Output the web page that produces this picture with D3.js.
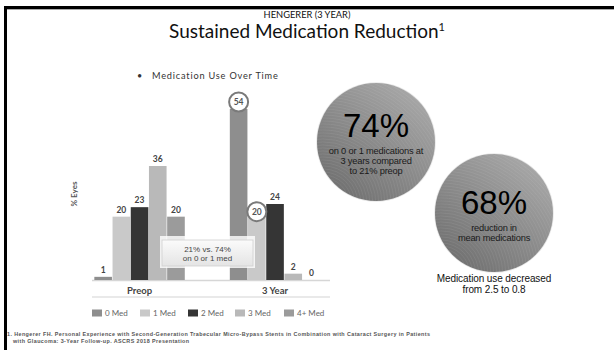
<!DOCTYPE html>
<html>
<head>
<meta charset="utf-8">
<script src="https://cdn.jsdelivr.net/npm/d3@7"></script>
<style>
  html, body { margin: 0; padding: 0; background: #fff; }
  svg { display: block; }
</style>
</head>
<body>
<svg id="chart" width="614" height="350"></svg>
<script>
// Share of eyes by number of glaucoma medications, preop vs. 3 years
const groups = ["Preop", "3 Year"];
const series = ["0 Med", "1 Med", "2 Med", "3 Med", "4+ Med"];
const preopValues = [1, 20, 23, 36, 20];
const year3Values = [54, 20, 24, 2, 0];
const seriesColors = ["#8e8e8e", "#c9c9c9", "#353535", "#b9b9b9", "#9b9b9b"];
const circledLabels = [{ group: "3 Year", series: "0 Med" }, { group: "3 Year", series: "1 Med" }];

const titleSmall = "HENGERER (3 YEAR)";
const titleMain = "Sustained Medication Reduction";
const bulletText = "Medication Use Over Time";
const calloutLines = ["21% vs. 74%", "on 0 or 1 med"];
const stat1 = { value: "74%", lines: ["on 0 or 1 medications at", "3 years compared", "to 21% preop"] };
const stat2 = { value: "68%", lines: ["reduction in", "mean medications"] };
const stat2Note = ["Medication use decreased", "from 2.5 to 0.8"];
const footnote = [
  "1. Hengerer FH. Personal Experience with Second-Generation Trabecular Micro-Bypass Stents in Combination with Cataract Surgery in Patients",
  "with Glaucoma: 3-Year Follow-up. ASCRS 2018 Presentation"
];

const table = groups.map((g, i) => ({
  group: g,
  values: series.map((s, j) => ({ series: s, value: (i === 0 ? preopValues : year3Values)[j] }))
}));

const svg = d3.select("#chart");
const defs = svg.append("defs");

// slide frame
svg.append("rect").attr("x", 4).attr("y", 6).attr("width", 610).attr("height", 3).attr("fill", "#000");
svg.append("rect").attr("x", 7).attr("y", 9).attr("width", 607).attr("height", 1).attr("fill", "#aaa");
svg.append("rect").attr("x", 4).attr("y", 6).attr("width", 3).attr("height", 344).attr("fill", "#000");

// titles
svg.append("text").attr("x", 307).attr("y", 18).attr("text-anchor", "middle")
  .attr("font-family", "Lato, 'Open Sans', sans-serif").attr("font-size", 9.3).attr("fill", "#111")
  .text(titleSmall);
const t = svg.append("text").attr("x", 307).attr("y", 38).attr("text-anchor", "middle")
  .attr("font-family", "Lato, 'Open Sans', sans-serif").attr("font-size", 19).attr("fill", "#111");
t.append("tspan").text(titleMain);
t.append("tspan").attr("font-size", 11).attr("dy", -7).text("1");

// bullet header
svg.append("text").attr("x", 137).attr("y", 79)
  .attr("font-family", "Lato, sans-serif").attr("font-size", 9).attr("fill", "#333").text("•");
svg.append("text").attr("x", 152).attr("y", 79)
  .attr("font-family", "Lato, sans-serif").attr("font-size", 9.2).attr("letter-spacing", 0.8)
  .attr("fill", "#333").text(bulletText);

// scales
const x0 = d3.scaleBand().domain(groups).range([92, 322.6]).paddingInner(0.328).paddingOuter(0.015);
const x1 = d3.scaleBand().domain(series).range([0, x0.bandwidth()]);
const y = d3.scaleLinear().domain([0, 60]).range([280, 90]);
const color = d3.scaleOrdinal().domain(series).range(seriesColors);

// baseline and category axis
svg.append("line").attr("x1", 92).attr("x2", 330).attr("y1", y(0) + 0.5).attr("y2", y(0) + 0.5)
  .attr("stroke", "#d6d6d6").attr("stroke-width", 1.5);
svg.append("line").attr("x1", 92).attr("x2", 330).attr("y1", 297).attr("y2", 297)
  .attr("stroke", "#e2e2e2").attr("stroke-width", 1.5);

const xAxis = svg.append("g").attr("transform", `translate(0,${y(0) + 1})`)
  .call(d3.axisBottom(x0).tickSize(0).tickPadding(6));
xAxis.select(".domain").remove();
xAxis.selectAll("text").attr("font-family", "Lato, sans-serif").attr("font-size", 9.5)
  .attr("font-weight", "bold").attr("fill", "#444");

// y axis title
svg.append("text").attr("transform", "translate(77,194) rotate(-90)").attr("text-anchor", "middle")
  .attr("font-family", "Lato, sans-serif").attr("font-size", 8).attr("font-weight", "bold")
  .attr("fill", "#555").text("% Eyes");

// bars
const g = svg.append("g").selectAll("g").data(table).join("g")
  .attr("transform", d => `translate(${x0(d.group)},0)`);
g.selectAll("rect").data(d => d.values.map(v => ({ ...v, group: d.group }))).join("rect")
  .attr("x", d => x1(d.series) + 0.3)
  .attr("width", x1.bandwidth() - 0.6)
  .attr("y", d => y(d.value))
  .attr("height", d => y(0) - y(d.value))
  .attr("fill", d => color(d.series));

// value labels
const isCircled = d => circledLabels.some(c => c.group === d.group && c.series === d.series);
g.each(function (d) {
  const sel = d3.select(this);
  d.values.forEach(v => {
    const cx = x1(v.series) + x1.bandwidth() / 2;
    if (isCircled({ group: d.group, series: v.series })) {
      const cy = y(v.value) - (v.value > 40 ? 7 : 5);
      sel.append("circle").attr("cx", cx).attr("cy", cy).attr("r", 9.5)
        .attr("fill", "#fff").attr("stroke", "#7a7a7a").attr("stroke-width", 2);
      sel.append("text").attr("x", cx).attr("y", cy + 3).attr("text-anchor", "middle")
        .attr("font-family", "Lato, sans-serif").attr("font-size", 8.5).attr("font-weight", "bold")
        .attr("fill", "#555").text(v.value);
    } else {
      sel.append("text").attr("x", cx).attr("y", y(v.value) - 4).attr("text-anchor", "middle")
        .attr("font-family", "Lato, sans-serif").attr("font-size", 8.5).attr("font-weight", "bold")
        .attr("fill", "#444").text(v.value);
    }
  });
});

// callout box
const boxGrad = defs.append("linearGradient").attr("id", "boxGrad").attr("x1", 0).attr("y1", 0).attr("x2", 0).attr("y2", 1);
boxGrad.append("stop").attr("offset", "0%").attr("stop-color", "#fbfbfb");
boxGrad.append("stop").attr("offset", "100%").attr("stop-color", "#e4e4e4");
svg.append("rect").attr("x", 160).attr("y", 236).attr("width", 95).attr("height", 32).attr("fill", "#fff").attr("opacity", 0.8);
svg.append("rect").attr("x", 162).attr("y", 240).attr("width", 91).attr("height", 26)
  .attr("fill", "url(#boxGrad)").attr("stroke", "#cfcfcf").attr("stroke-width", 0.8);
calloutLines.forEach((l, i) => {
  svg.append("text").attr("x", 207.5).attr("y", 252 + i * 9).attr("text-anchor", "middle")
    .attr("font-family", "'Liberation Sans', Arial, sans-serif").attr("font-size", 8).attr("fill", "#444").text(l);
});

// legend
const legend = svg.append("g").selectAll("g").data(series).join("g")
  .attr("transform", (d, i) => `translate(${[92, 140, 188, 235, 284][i]},313)`);
legend.append("rect").attr("width", 10).attr("height", 7).attr("y", -3.5).attr("fill", d => color(d));
legend.append("text").attr("x", 13).attr("y", 3).attr("font-family", "Lato, sans-serif")
  .attr("font-size", 8).attr("fill", "#666").text(d => d);

// stat circles
const circGrad = defs.append("linearGradient").attr("id", "circGrad")
  .attr("x1", 0.85).attr("y1", 0.05).attr("x2", 0.15).attr("y2", 0.95);
circGrad.append("stop").attr("offset", "0%").attr("stop-color", "#a9a9a9");
circGrad.append("stop").attr("offset", "100%").attr("stop-color", "#6f6f6f");

function statCircle(cx, cy, r, id) {
  const clip = defs.append("clipPath").attr("id", id);
  clip.append("circle").attr("cx", cx).attr("cy", cy).attr("r", r);
  svg.append("circle").attr("cx", cx).attr("cy", cy).attr("r", r + 0.8).attr("fill", "#e8e8e8");
  svg.append("circle").attr("cx", cx).attr("cy", cy).attr("r", r).attr("fill", "url(#circGrad)");
  const rings = svg.append("g").attr("clip-path", `url(#${id})`);
  d3.range(20, 170, 3).forEach(rr => {
    rings.append("circle").attr("cx", cx - r * 0.9).attr("cy", cy + r * 1.05).attr("r", rr)
      .attr("fill", "none").attr("stroke", "#ffffff").attr("stroke-opacity", 0.07).attr("stroke-width", 1);
  });
  return svg.append("g");
}

const c1 = statCircle(376, 142, 59, "clip1");
c1.append("text").attr("x", 376).attr("y", 137).attr("text-anchor", "middle")
  .attr("font-family", "'Liberation Sans', Arial, sans-serif").attr("font-size", 33).attr("fill", "#000").text(stat1.value);
stat1.lines.forEach((l, i) => {
  c1.append("text").attr("x", 376).attr("y", 154 + i * 10).attr("text-anchor", "middle")
    .attr("font-family", "'Liberation Sans', Arial, sans-serif").attr("font-size", 9.3)
    .attr("letter-spacing", -0.2).attr("fill", "#1a1a1a").text(l);
});

const c2 = statCircle(494, 213, 59, "clip2");
c2.append("text").attr("x", 494).attr("y", 214).attr("text-anchor", "middle")
  .attr("font-family", "'Liberation Sans', Arial, sans-serif").attr("font-size", 33).attr("fill", "#000").text(stat2.value);
stat2.lines.forEach((l, i) => {
  c2.append("text").attr("x", 494).attr("y", 231 + i * 10).attr("text-anchor", "middle")
    .attr("font-family", "'Liberation Sans', Arial, sans-serif").attr("font-size", 9.3)
    .attr("letter-spacing", -0.2).attr("fill", "#1a1a1a").text(l);
});
stat2Note.forEach((l, i) => {
  svg.append("text").attr("x", 494).attr("y", 282 + i * 11).attr("text-anchor", "middle")
    .attr("font-family", "'Liberation Sans', Arial, sans-serif").attr("font-size", 10)
    .attr("letter-spacing", -0.1).attr("fill", "#111").text(l);
});

// footnote
footnote.forEach((l, i) => {
  svg.append("text").attr("x", i === 0 ? 7 : 13).attr("y", 336 + i * 7)
    .attr("font-family", "'Liberation Sans', Arial, sans-serif").attr("font-size", 5.4)
    .attr("letter-spacing", 0.4).attr("font-weight", "bold").attr("fill", "#555").text(l);
});
</script>
</body>
</html>
